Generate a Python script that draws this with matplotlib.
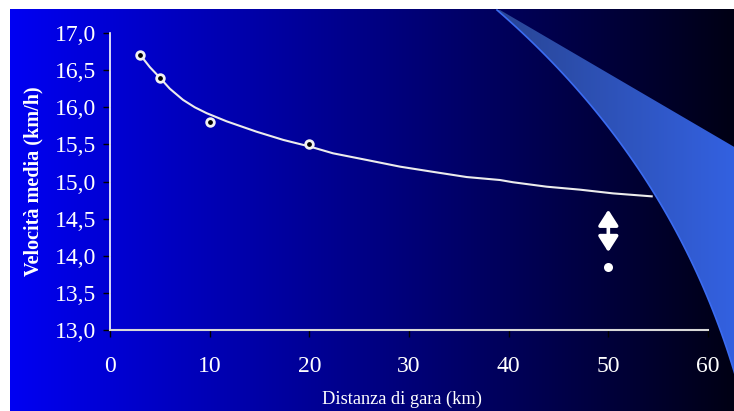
import numpy as np
import matplotlib.pyplot as plt
from matplotlib.patches import Polygon

plt.rcParams['font.family'] = ['Liberation Serif', 'DejaVu Serif']

# measured race results
dist_km = [3, 5, 10, 20]
speed_kmh = [16.7, 16.4, 15.8, 15.5]

# trend line
trend_km = [3.18, 4.0, 4.92, 6.0, 7.32, 8.5, 9.70, 11.71, 14.72, 17.39, 20.07, 22.37,
            25.76, 29.10, 32.41, 35.79, 39.13, 40.43, 43.82, 47.16, 50.47, 54.35]
trend_kmh = [16.68, 16.54, 16.41, 16.25, 16.10, 16.00, 15.92, 15.81, 15.67, 15.56,
             15.47, 15.38, 15.29, 15.20, 15.13, 15.06, 15.02, 14.99, 14.93, 14.89,
             14.84, 14.80]

# the 50 km point and its gap to the trend line
far_km = [50]
far_kmh = [13.85]
gap_kmh = [14.05, 14.62]

yticks = [13.0, 13.5, 14.0, 14.5, 15.0, 15.5, 16.0, 16.5, 17.0]
ytick_labels = ['13,0', '13,5', '14,0', '14,5', '15,0', '15,5', '16,0', '16,5', '17,0']
xticks = [0, 10, 20, 30, 40, 50, 60]

fig = plt.figure(figsize=(7.34, 4.11), dpi=100)
fig.patch.set_facecolor('white')

# slide background: blue to black gradient plus the light wedge
bg = fig.add_axes([0, 0, 1, 1])
bg.set_xlim(0, 734)
bg.set_ylim(411, 0)
bg.axis('off')
t = np.linspace(0, 1, 256)
grad = np.zeros((1, 256, 3))
grad[0, :, 2] = 0.95 - 0.87 * t
bg.imshow(grad, extent=[10, 734, 411, 10], aspect='auto', interpolation='bilinear')

# curved left edge of the wedge (quadratic bezier)
s = np.linspace(0, 1, 60)
p0, p1, p2 = np.array([497, 10]), np.array([686, 174]), np.array([745, 411])
edge = ((1 - s) ** 2)[:, None] * p0 + (2 * s * (1 - s))[:, None] * p1 + (s ** 2)[:, None] * p2
wedge = Polygon(np.vstack([[[500, 10], [760, 162], [760, 440]], edge[::-1]]),
                closed=True, facecolor='none', edgecolor='none')
bg.add_patch(wedge)
wg = np.zeros((1, 256, 3))
wg[0, :, 0] = 0.16 + 0.04 * t
wg[0, :, 1] = 0.27 + 0.11 * t
wg[0, :, 2] = 0.58 + 0.30 * t
im = bg.imshow(wg, extent=[497, 734, 411, 10], aspect='auto', interpolation='bilinear')
im.set_clip_path(wedge)
bg.plot(edge[:, 0], edge[:, 1], color='#3b6cf2', lw=1.2)
bg.set_xlim(0, 734)
bg.set_ylim(411, 0)

ax = fig.add_axes([110 / 734, 81 / 411, 598 / 734, 297 / 411])
ax.patch.set_alpha(0)

ax.plot(trend_km, trend_kmh, '-', color='#ececec', lw=1.5)
ax.plot(dist_km, speed_kmh, 'o', ms=5.5, mfc='black', mec='#f2f2f2', mew=2)
ax.plot(far_km, far_kmh, 'o', ms=6.5, color='white', mec='none')
ax.annotate('', xy=(far_km[0], gap_kmh[1]), xytext=(far_km[0], gap_kmh[0]),
            arrowprops=dict(arrowstyle='<|-|>,head_length=0.47,head_width=0.3',
                            mutation_scale=20, color='white', lw=2.6,
                            shrinkA=0, shrinkB=0))

ax.set_xlim(0, 60)
ax.set_ylim(13, 17)
ax.set_xticks(xticks)
ax.set_yticks(yticks)
ax.set_yticklabels(ytick_labels)
ax.spines['top'].set_visible(False)
ax.spines['right'].set_visible(False)
ax.spines['left'].set_color('white')
ax.spines['left'].set_linewidth(1.2)
ax.spines['bottom'].set_color('#d8d8d8')
ax.spines['bottom'].set_linewidth(1.5)
ax.tick_params(axis='both', color='black', length=5, width=1,
               labelcolor='white', labelsize=17)
ax.tick_params(axis='x', pad=14)
ax.tick_params(axis='y', pad=5)

ax.set_xlabel('Distanza di gara (km)', fontsize=13.2, color='white')
ax.set_ylabel('Velocità media (km/h)', fontsize=14.5, fontweight='bold', color='white')
ax.xaxis.set_label_coords(0.488, -0.205)
ax.yaxis.set_label_coords(-0.112, 0.5)

plt.savefig('out.png', dpi=100)
plt.close()
